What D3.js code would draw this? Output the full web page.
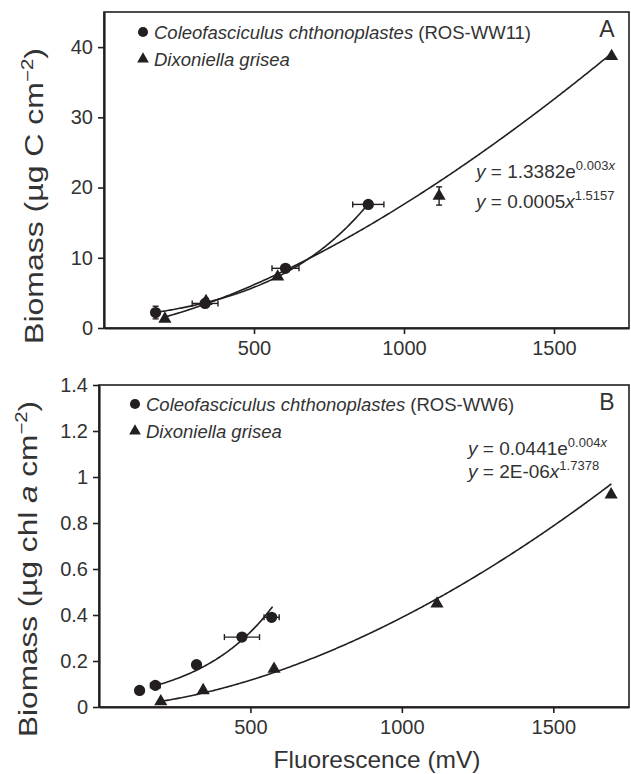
<!DOCTYPE html>
<html>
<head>
<meta charset="utf-8">
<script src="https://cdn.jsdelivr.net/npm/d3@7"></script>
<style>
  html, body { margin: 0; padding: 0; background: #fff; }
  svg { display: block; font-family: "Liberation Sans", Arial, sans-serif; }
</style>
</head>
<body>
<div id="chart"></div>
<script>
// ---- Data ----
// Panel A: biomass (µg C cm-2) vs fluorescence (mV)
const coleoA = [
  { x: 172, y: 2.2, xe: 0, ye: 0.9 },
  { x: 337, y: 3.5, xe: 43, ye: 0 },
  { x: 605, y: 8.5, xe: 45, ye: 0 },
  { x: 881, y: 17.6, xe: 52, ye: 0 }
];
const dixoA = [
  { x: 203, y: 1.3, xe: 0, ye: 0 },
  { x: 340, y: 3.8, xe: 0, ye: 0.4 },
  { x: 579, y: 7.3, xe: 0, ye: 0 },
  { x: 1117, y: 18.8, xe: 0, ye: 1.3 },
  { x: 1692, y: 38.7, xe: 0, ye: 0 }
];
// Panel B: biomass (µg chl a cm-2) vs fluorescence (mV)
const coleoB = [
  { x: 134, y: 0.072, xe: 0, ye: 0 },
  { x: 186, y: 0.094, xe: 16, ye: 0 },
  { x: 322, y: 0.184, xe: 0, ye: 0 },
  { x: 472, y: 0.304, xe: 58, ye: 0 },
  { x: 570, y: 0.39, xe: 25, ye: 0 }
];
const dixoB = [
  { x: 204, y: 0.024, xe: 0, ye: 0 },
  { x: 344, y: 0.072, xe: 0, ye: 0 },
  { x: 578, y: 0.165, xe: 0, ye: 0 },
  { x: 1116, y: 0.449, xe: 0, ye: 0 },
  { x: 1691, y: 0.923, xe: 0, ye: 0 }
];

// trend lines: exp -> a*e^(b*x), pow -> a*x^b
const fitsA = [
  { type: 'exp', a: 1.3382, b: 0.00293, from: 172, to: 881 },
  { type: 'pow', a: 0.0005, b: 1.5157, from: 203, to: 1692 }
];
const fitsB = [
  { type: 'exp', a: 0.0441, b: 0.004, from: 175, to: 573 },
  { type: 'pow', a: 2.38e-6, b: 1.7378, from: 204, to: 1692 }
];

const xTicks = [500, 1000, 1500];
const yTicksA = [0, 10, 20, 30, 40];
const yTicksB = [0, 0.2, 0.4, 0.6, 0.8, 1, 1.2, 1.4];

const W = 631, H = 774;
const ink = '#231f20';

const svg = d3.select('#chart').append('svg')
  .attr('width', W).attr('height', H)
  .attr('viewBox', [0, 0, W, H]);

// ---- one panel ----
function panel(cfg) {
  const x = d3.scaleLinear().domain([0, 1750]).range([cfg.left, 629]);
  const y = d3.scaleLinear().domain(cfg.yDomain).range([cfg.bottom, cfg.top]);
  const g = svg.append('g');

  // frame
  g.append('rect')
    .attr('x', cfg.left).attr('y', cfg.top)
    .attr('width', 629 - cfg.left).attr('height', cfg.bottom - cfg.top)
    .attr('fill', 'none').attr('stroke', ink).attr('stroke-width', 1.6);

  // axes
  const xAxis = g.append('g')
    .attr('transform', `translate(0,${cfg.bottom})`)
    .call(d3.axisBottom(x).tickValues(xTicks).tickSize(6).tickPadding(7).tickSizeOuter(0)
      .tickFormat(d3.format('d')));
  const yAxis = g.append('g')
    .attr('transform', `translate(${cfg.left},0)`)
    .call(d3.axisLeft(y).tickValues(cfg.yTicks).tickSize(6).tickPadding(5).tickSizeOuter(0)
      .tickFormat(d => String(d)));
  [xAxis, yAxis].forEach(a => {
    a.select('.domain').attr('stroke', ink).attr('stroke-width', 2.2);
    a.selectAll('.tick line').attr('stroke', ink).attr('stroke-width', 1.6);
    a.selectAll('.tick text').attr('fill', '#333').attr('font-size', 20)
      .attr('font-family', '"Liberation Sans", Arial, sans-serif');
  });

  // trend lines
  const line = d3.line().x(d => x(d[0])).y(d => y(d[1]));
  cfg.fits.forEach(f => {
    const pts = d3.range(f.from, f.to + 1, 4).concat([f.to]).map(v =>
      [v, f.type === 'exp' ? f.a * Math.exp(f.b * v) : f.a * Math.pow(v, f.b)]);
    g.append('path').attr('d', line(pts))
      .attr('fill', 'none').attr('stroke', ink).attr('stroke-width', 1.6);
  });

  // error bars
  const all = cfg.circles.concat(cfg.triangles);
  const eb = g.append('g').attr('stroke', ink).attr('stroke-width', 1.4);
  all.filter(d => d.xe > 0).forEach(d => {
    eb.append('line').attr('x1', x(d.x - d.xe)).attr('x2', x(d.x + d.xe))
      .attr('y1', y(d.y)).attr('y2', y(d.y));
    [d.x - d.xe, d.x + d.xe].forEach(v => eb.append('line')
      .attr('x1', x(v)).attr('x2', x(v)).attr('y1', y(d.y) - 3).attr('y2', y(d.y) + 3));
  });
  all.filter(d => d.ye > 0).forEach(d => {
    eb.append('line').attr('x1', x(d.x)).attr('x2', x(d.x))
      .attr('y1', y(d.y - d.ye)).attr('y2', y(d.y + d.ye));
    [d.y - d.ye, d.y + d.ye].forEach(v => eb.append('line')
      .attr('x1', x(d.x) - 3).attr('x2', x(d.x) + 3).attr('y1', y(v)).attr('y2', y(v)));
  });

  // markers
  const circ = d3.symbol(d3.symbolCircle, 100);
  const tri = d3.symbol(d3.symbolTriangle, 75);
  g.selectAll('.c').data(cfg.circles).join('path').attr('class', 'c')
    .attr('d', circ).attr('fill', ink)
    .attr('transform', d => `translate(${x(d.x)},${y(d.y)})`);
  g.selectAll('.t').data(cfg.triangles).join('path').attr('class', 't')
    .attr('d', tri).attr('fill', ink)
    .attr('transform', d => `translate(${x(d.x)},${y(d.y)})`);

  // legend
  const lg = g.append('g').attr('font-size', 18.5).attr('fill', '#333');
  lg.append('path').attr('d', d3.symbol(d3.symbolCircle, 80)).attr('fill', ink)
    .attr('transform', `translate(${cfg.legX},${cfg.legY})`);
  const t1 = lg.append('text').attr('x', cfg.legX + 11).attr('y', cfg.legY + 6.5);
  t1.append('tspan').attr('font-style', 'italic').text('Coleofasciculus chthonoplastes');
  t1.append('tspan').text(' ' + cfg.strain);
  lg.append('path').attr('d', d3.symbol(d3.symbolTriangle, 60)).attr('fill', ink)
    .attr('transform', `translate(${cfg.legX},${cfg.legY + 27})`);
  lg.append('text').attr('x', cfg.legX + 11).attr('y', cfg.legY + 33.5)
    .attr('font-style', 'italic').text('Dixoniella grisea');

  // panel letter
  g.append('text').attr('x', 607).attr('y', cfg.top + 25)
    .attr('text-anchor', 'middle').attr('font-size', 23).attr('fill', '#333')
    .text(cfg.letter);

  // equations
  const eq = g.append('g').attr('font-size', 19).attr('fill', '#333');
  const e1 = eq.append('text').attr('x', cfg.eqX).attr('y', cfg.eqY);
  e1.append('tspan').attr('font-style', 'italic').text('y');
  e1.append('tspan').text(` = ${cfg.eq1[0]}e`);
  e1.append('tspan').attr('font-size', 13).attr('dy', -8).text(cfg.eq1[1]);
  e1.append('tspan').attr('font-size', 13).attr('font-style', 'italic').text('x');
  const e2 = eq.append('text').attr('x', cfg.eqX).attr('y', cfg.eqY + cfg.eqGap);
  e2.append('tspan').attr('font-style', 'italic').text('y');
  e2.append('tspan').text(` = ${cfg.eq2[0]}`);
  e2.append('tspan').attr('font-style', 'italic').text('x');
  e2.append('tspan').attr('font-size', 13).attr('dy', -8).text(cfg.eq2[1]);

  // y title, stretched along its length to span the same run as the original
  const yt = g.append('text')
    .attr('text-anchor', 'middle').attr('font-size', 25).attr('fill', '#333');
  cfg.yTitle(yt);
  const natural = yt.node().getComputedTextLength();
  const sx = cfg.yTitleLen / natural;
  yt.attr('transform', `translate(${cfg.yTitleX},${cfg.yTitleY}) rotate(-90) scale(${sx},1)`);
  return { x, y };
}

panel({
  left: 104, top: 12, bottom: 328, yDomain: [0, 45], yTicks: yTicksA,
  circles: coleoA, triangles: dixoA, fits: fitsA,
  legX: 143, legY: 32, strain: '(ROS-WW11)', letter: 'A',
  eqX: 476, eqY: 178, eqGap: 30,
  eq1: ['1.3382', '0.003'], eq2: ['0.0005', '1.5157'],
  yTitleX: 43, yTitleY: 196, yTitleLen: 296,
  yTitle: t => {
    t.append('tspan').text('Biomass (µg C cm');
    t.append('tspan').attr('font-size', 16).attr('dy', -10).text('−2');
    t.append('tspan').attr('dy', 10).text(')');
  }
});

panel({
  left: 99, top: 385, bottom: 707, yDomain: [0, 1.4], yTicks: yTicksB,
  circles: coleoB, triangles: dixoB, fits: fitsB,
  legX: 135, legY: 404, strain: '(ROS-WW6)', letter: 'B',
  eqX: 468, eqY: 455, eqGap: 23,
  eq1: ['0.0441', '0.004'], eq2: ['2E-06', '1.7378'],
  yTitleX: 37, yTitleY: 569, yTitleLen: 336,
  yTitle: t => {
    t.append('tspan').text('Biomass (µg chl ');
    t.append('tspan').attr('font-style', 'italic').text('a');
    t.append('tspan').text(' cm');
    t.append('tspan').attr('font-size', 16).attr('dy', -10).text('−2');
    t.append('tspan').attr('dy', 10).text(')');
  }
});

// shared x title
svg.append('text').attr('x', 377).attr('y', 768)
  .attr('text-anchor', 'middle').attr('font-size', 24.5).attr('fill', '#333')
  .text('Fluorescence (mV)');
</script>
</body>
</html>
